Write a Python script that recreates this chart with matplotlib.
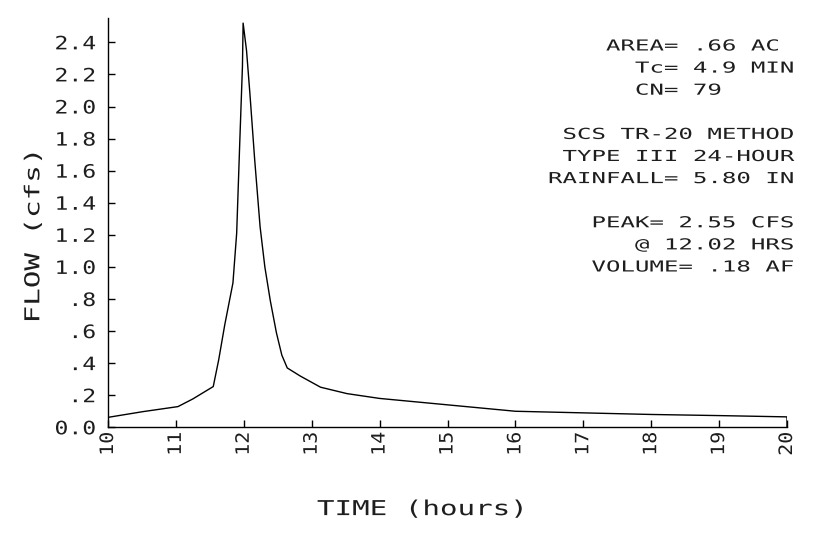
import matplotlib
matplotlib.use("Agg")
import matplotlib.pyplot as plt
from matplotlib.patheffects import AbstractPathEffect
from matplotlib.transforms import Affine2D

# hidrograma: tiempo [horas], caudal [cfs]
horas = [10.0, 10.52, 11.03, 11.25, 11.55, 11.63, 11.72, 11.84, 11.895, 11.94, 11.98, 11.99,
         12.04, 12.09, 12.16, 12.24, 12.31, 12.39, 12.48, 12.56, 12.64, 12.83, 13.13, 13.52,
         14.0, 15.0, 16.0, 17.0, 18.0, 19.0, 20.0, 20.0]
caudal = [0.062, 0.098, 0.129, 0.177, 0.254, 0.42, 0.64, 0.90, 1.21, 1.77, 2.25, 2.52,
          2.35, 2.08, 1.67, 1.25, 1.00, 0.79, 0.59, 0.45, 0.37, 0.32, 0.25, 0.21,
          0.18, 0.14, 0.10, 0.09, 0.08, 0.073, 0.065, 0.0]

marcas_x = [10, 11, 12, 13, 14, 15, 16, 17, 18, 19, 20]
etiquetas_x = ["10", "11", "12", "13", "14", "15", "16", "17", "18", "19", "20"]
marcas_y = [0.0, 0.2, 0.4, 0.6, 0.8, 1.0, 1.2, 1.4, 1.6, 1.8, 2.0, 2.2, 2.4]
etiquetas_y = ["0.0", ".2", ".4", ".6", ".8", "1.0", "1.2", "1.4", "1.6", "1.8",
               "2.0", "2.2", "2.4"]

# bloque de texto del lado derecho (columnas como en el plotter)
notas = ["    AREA= .66 AC",
         "      Tc= 4.9 MIN",
         "      CN= 79",
         "",
         " SCS TR-20 METHOD",
         " TYPE III 24-HOUR",
         "RAINFALL= 5.80 IN",
         "",
         "   PEAK= 2.55 CFS",
         "      @ 12.02 HRS",
         "   VOLUME= .18 AF"]


class Estirar(AbstractPathEffect):
    # ensancha las letras como la fuente del plotter (en pixeles)
    def __init__(self, sx=1.0, sy=1.0, x0=0.0, y0=0.0):
        super().__init__()
        self.extra = Affine2D().translate(-x0, -y0).scale(sx, sy).translate(x0, y0)

    def draw_path(self, renderer, gc, tpath, affine, rgbFace=None):
        renderer.draw_path(gc, tpath, affine + self.extra, rgbFace)


plt.rcParams['font.family'] = ['DejaVu Sans Mono']
tinta = '#1e1e1e'

W, H = 817, 539
L, R, B, T = 108, 787, 427.3, 18.3  # bordes de los ejes en pixeles

fig = plt.figure(figsize=(W / 100, H / 100), dpi=100)
ax = fig.add_axes([L / W, 1 - B / H, (R - L) / W, (B - T) / H])

ax.plot(horas, caudal, color='black', lw=1.0)
ax.set_xlim(10, 20)
ax.set_ylim(0, 2.55)
ax.spines[['top', 'right']].set_visible(False)
ax.spines[['left', 'bottom']].set_linewidth(1.0)

ax.set_xticks(marcas_x, etiquetas_x, rotation=90)
ax.set_yticks(marcas_y, etiquetas_y)
ax.tick_params(direction='in', length=5, width=1, colors='black',
               labelcolor=tinta, labelsize=13.3)
ax.tick_params(axis='y', pad=8.5)
ax.tick_params(axis='x', pad=3.2)

for t in ax.get_yticklabels():
    t.set_path_effects([Estirar(sx=1.25, x0=L - 8.5 * 100 / 72)])
for t in ax.get_xticklabels():
    t.set_path_effects([Estirar(sy=1.08, y0=H - (B + 3.2 * 100 / 72))])

ax.set_xlabel("TIME (hours)", fontsize=14.8, color=tinta, va='center')
ax.xaxis.set_label_coords(0.463, -0.2)
ax.xaxis.label.set_path_effects([Estirar(sx=1.42, x0=L + 0.463 * (R - L))])

ax.set_ylabel("FLOW (cfs)", fontsize=14.8, color=tinta, va='center')
ax.yaxis.set_label_coords(-0.110, 0.469)
ax.yaxis.label.set_path_effects([Estirar(sy=1.42, y0=H - (B - 0.469 * (B - T)))])

for i, linea in enumerate(notas):
    if linea == "":
        continue
    fig.text(548 / W, 1 - (50.5 + i * 22.1) / H, linea, ha='left', va='baseline',
             fontsize=10.9, color=tinta,
             path_effects=[Estirar(sx=1.59, x0=548)])

fig.savefig("out.png", dpi=100)
